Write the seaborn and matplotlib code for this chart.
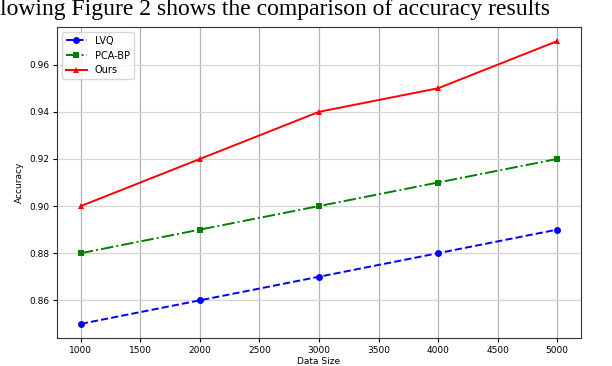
import matplotlib
matplotlib.use("Agg")
import matplotlib.pyplot as plt
import seaborn as sns

# data
data_sizes = [1000, 2000, 3000, 4000, 5000]
lvq_acc = [0.85, 0.86, 0.87, 0.88, 0.89]
pcabp_acc = [0.88, 0.89, 0.90, 0.91, 0.92]
ours_acc = [0.90, 0.92, 0.94, 0.95, 0.97]
y_ticks = [0.86, 0.88, 0.90, 0.92, 0.94, 0.96]

fig = plt.figure(figsize=(6.12, 3.66), dpi=100)
ax = fig.add_axes([57 / 612, 1 - 338 / 366, (581 - 57) / 612, (338 - 27) / 366])

sns.lineplot(x=data_sizes, y=lvq_acc, ax=ax, color="blue", linestyle="--",
             marker="o", markersize=5, markeredgewidth=0, linewidth=1.4, label="LVQ")
sns.lineplot(x=data_sizes, y=pcabp_acc, ax=ax, color="green", linestyle="-.",
             marker="s", markersize=5, markeredgewidth=0, linewidth=1.4, label="PCA-BP")
sns.lineplot(x=data_sizes, y=ours_acc, ax=ax, color="red", linestyle="-",
             marker="^", markersize=5, markeredgewidth=0, linewidth=1.4, label="Ours")

ax.set_xlim(800, 5200)
ax.set_ylim(0.844, 0.976)
ax.set_yticks(y_ticks)
ax.set_xticks(range(1000, 5001, 500))
ax.grid(True, axis="x", color="#b4b4b4", linewidth=0.9)
ax.grid(True, axis="y", color="#d6d6d6", linewidth=0.9)
ax.set_axisbelow(True)
ax.tick_params(labelsize=6.5, length=3, pad=2.5)
ax.set_xlabel("Data Size", fontsize=6.5, labelpad=2)
ax.set_ylabel("Accuracy", fontsize=6.5, labelpad=4)
for s in ax.spines.values():
    s.set_color("#333333")
ax.legend(loc="upper left", fontsize=7, handlelength=2.2)

# caption text from the paper, cut off at the edges
fig.text(0.0, 1 - 15 / 366, "lowing Figure 2 shows the comparison of accuracy results",
         family="Liberation Serif", fontsize=17, va="baseline", ha="left")

fig.savefig("out.png", dpi=100)
